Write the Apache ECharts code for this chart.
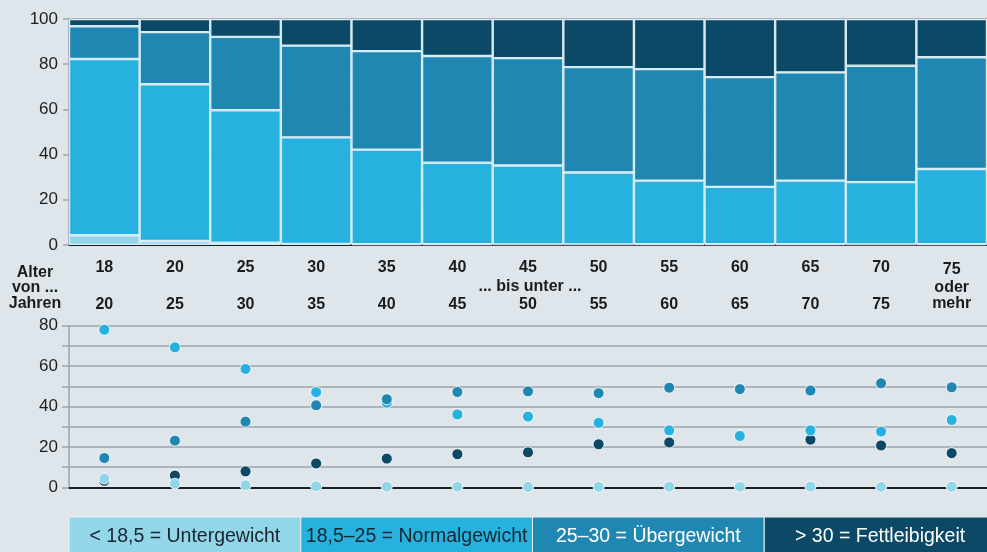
<!DOCTYPE html>
<html>
<head>
<meta charset="utf-8">
<script src="https://cdn.jsdelivr.net/npm/echarts@6/dist/echarts.min.js"></script>
<style>
  html, body { margin: 0; padding: 0; background: #dfe6eb; }
  #chart { width: 987px; height: 552px; }
</style>
</head>
<body>
<div id="chart"></div>
<script>
// Altersgruppen: von ... bis unter ...
var ageFrom = ['18', '20', '25', '30', '35', '40', '45', '50', '55', '60', '65', '70', '75']
var ageTo = ['20', '25', '30', '35', '40', '45', '50', '55', '60', '65', '70', '75', 'oder\nmehr']

// Anteile in %
var untergewicht = [4.3, 1.8, 1.0, 0.5, 0.3, 0.3, 0.2, 0.2, 0.3, 0.3, 0.3, 0.2, 0.3]
var normalgewicht = [78.0, 69.3, 58.6, 47.1, 41.9, 36.1, 35.0, 31.9, 28.2, 25.4, 28.2, 27.6, 33.3]
var uebergewicht = [14.5, 23.1, 32.5, 40.6, 43.6, 47.2, 47.5, 46.6, 49.3, 48.6, 47.9, 51.5, 49.5]
var fettleibigkeit = [3.2, 5.8, 7.9, 11.8, 14.2, 16.4, 17.3, 21.3, 22.2, 25.7, 23.6, 20.7, 16.9]

var legendNames = ['< 18,5 = Untergewicht', '18,5–25 = Normalgewicht', '25–30 = Übergewicht', '> 30 = Fettleibigkeit']
var colors = ['#93d6ea', '#27b1de', '#2087b2', '#0b4966']
var textColors = ['#16262e', '#16262e', '#ffffff', '#ffffff']

var font = "'Liberation Sans', Arial, sans-serif"
var gridLeft = 69
var gridWidth = 927

var lines = [untergewicht, normalgewicht, uebergewicht, fettleibigkeit]

// gestapelte Balken oben
var barSeries = lines.map(function (arr, i) {
  return {
    name: legendNames[i],
    type: 'bar',
    stack: 'bmi',
    barCategoryGap: '0%',
    xAxisIndex: 0,
    yAxisIndex: 0,
    data: arr,
    itemStyle: {
      color: colors[i],
      borderColor: '#d6edf6',
      borderWidth: 1.2
    }
  }
})

// Punkte unten, Reihenfolge wie im Original (dunkel zuerst)
var dotOrder = [3, 0, 1, 2]
var dotSeries = dotOrder.map(function (i) {
  return {
    name: legendNames[i],
    type: 'scatter',
    xAxisIndex: 1,
    yAxisIndex: 1,
    symbolSize: 11,
    data: lines[i],
    itemStyle: {
      color: colors[i],
      opacity: 1,
      borderColor: 'rgba(255,255,255,0.85)',
      borderWidth: 1
    }
  }
})

// Legende als farbige Kästen
var legendGraphics = []
var boxW = gridWidth / 4
legendNames.forEach(function (name, i) {
  legendGraphics.push({
    type: 'rect',
    shape: { x: gridLeft + i * boxW, y: 517, width: boxW, height: 40 },
    style: { fill: colors[i], stroke: '#e6f1f5', lineWidth: 1 }
  })
  legendGraphics.push({
    type: 'text',
    x: gridLeft + i * boxW + boxW / 2,
    y: 537,
    style: {
      text: name,
      align: 'center',
      verticalAlign: 'middle',
      fill: textColors[i],
      font: '19.5px ' + font
    }
  })
})

var option = {
  backgroundColor: '#dfe6eb',
  animation: false,
  textStyle: { fontFamily: font },
  grid: [
    { left: gridLeft, top: 19, width: gridWidth, height: 226 },
    { left: gridLeft, top: 325.7, width: gridWidth, height: 161.6 }
  ],
  xAxis: [
    {
      type: 'category',
      gridIndex: 0,
      data: ageFrom,
      axisLine: { lineStyle: { color: '#1b1f22', width: 2 } },
      axisTick: { show: false },
      axisLabel: {
        interval: 0,
        margin: 13.75,
        fontSize: 16,
        fontWeight: 'bold',
        color: '#1b1b1b',
        lineHeight: 18.5,
        formatter: function (value, index) {
          if (index === ageFrom.length - 1) {
            var parts = ageTo[index].split('\n')
            return '{p|' + value + '}\n{m|' + parts[0] + '}\n{m|' + parts[1] + '}'
          }
          return value + '\n\n' + ageTo[index]
        },
        rich: {
          p: { fontSize: 16, fontWeight: 'bold', color: '#1b1b1b', lineHeight: 21.5 },
          m: { fontSize: 16, fontWeight: 'bold', color: '#1b1b1b', lineHeight: 15.5 }
        }
      }
    },
    {
      type: 'category',
      gridIndex: 1,
      data: ageFrom,
      axisLine: { lineStyle: { color: '#1b1f22', width: 2 } },
      axisTick: { show: false },
      axisLabel: { show: false }
    }
  ],
  yAxis: [
    {
      type: 'value',
      gridIndex: 0,
      min: 0,
      max: 100,
      interval: 20,
      axisLine: { show: true, lineStyle: { color: '#9ba5ab', width: 1.5 } },
      axisTick: { show: true, length: 6, lineStyle: { color: '#9ba5ab', width: 1.5 } },
      splitLine: { show: true, lineStyle: { color: '#9ba5ab', width: 1.5 } },
      axisLabel: { fontSize: 17, color: '#1e1e1e', margin: 11, padding: [2, 0, 0, 0] }
    },
    {
      type: 'value',
      gridIndex: 1,
      min: 0,
      max: 80,
      interval: 10,
      axisLine: { show: true, lineStyle: { color: '#9ba5ab', width: 1.5 } },
      axisTick: { show: true, length: 7, lineStyle: { color: '#9ba5ab', width: 1.5 } },
      splitLine: { show: true, lineStyle: { color: '#9ba5ab', width: 1.5 } },
      axisLabel: {
        fontSize: 17,
        color: '#1e1e1e',
        margin: 11,
        padding: [7, 0, 0, 0],
        formatter: function (v) { return v % 20 === 0 ? v : '' }
      }
    }
  ],
  graphic: [
    {
      type: 'text',
      x: 35,
      y: 264.5,
      style: {
        text: 'Alter\nvon ...\nJahren',
        align: 'center',
        verticalAlign: 'top',
        lineHeight: 15.5,
        fill: '#1b1b1b',
        font: 'bold 16px ' + font
      }
    },
    {
      type: 'text',
      x: 530,
      y: 286.5,
      style: {
        text: '... bis unter ...',
        align: 'center',
        verticalAlign: 'middle',
        fill: '#1b1b1b',
        font: 'bold 16px ' + font
      }
    }
  ].concat(legendGraphics),
  series: barSeries.concat(dotSeries)
}

var myChart = echarts.init(document.getElementById('chart'))
myChart.setOption(option)
</script>
</body>
</html>
